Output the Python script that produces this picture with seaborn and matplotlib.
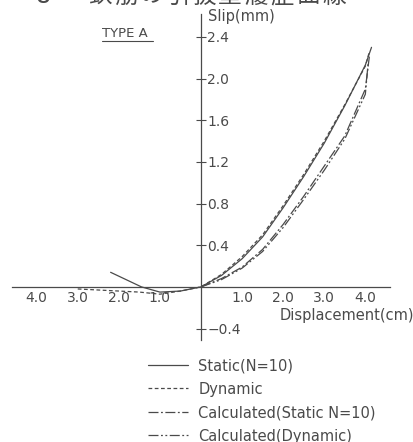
import matplotlib
matplotlib.use("Agg")
import matplotlib.pyplot as plt
import seaborn as sns
import pandas as pd

sns.set_style("white")
plt.rcParams["font.family"] = ["DejaVu Sans", "Noto Sans CJK JP"]

# ---- data ----
static_x = [-2.2, -1.45, -1.0, -0.5, 0.0, 0.5, 1.0, 1.5, 2.0, 2.5, 3.0, 3.5, 4.0, 4.15]
static_y = [0.14, 0.0, -0.05, -0.04, 0.0, 0.11, 0.27, 0.48, 0.76, 1.06, 1.38, 1.74, 2.13, 2.30]

dynamic_x = [-3.0, -2.5, -2.0, -1.5, -1.0, -0.5, 0.0, 0.5, 1.0, 1.5, 2.0, 2.5, 3.0, 3.5, 4.0, 4.1]
dynamic_y = [-0.02, -0.03, -0.04, -0.05, -0.07, -0.04, 0.0, 0.12, 0.29, 0.50, 0.78, 1.08, 1.40, 1.75, 2.12, 2.26]

calc_static_x = [0.0, 0.5, 1.0, 1.5, 2.0, 2.5, 3.0, 3.5, 4.0, 4.1]
calc_static_y = [0.0, 0.08, 0.19, 0.36, 0.60, 0.87, 1.16, 1.45, 1.90, 2.22]

calc_dynamic_x = [0.0, 0.5, 1.0, 1.5, 2.0, 2.5, 3.0, 3.5, 4.0, 4.07]
calc_dynamic_y = [0.0, 0.07, 0.18, 0.34, 0.57, 0.84, 1.12, 1.42, 1.85, 2.16]

labels = ["Static(N=10)", "Dynamic", "Calculated(Static N=10)", "Calculated(Dynamic)"]
x_ticks = [-4.0, -3.0, -2.0, -1.0, 1.0, 2.0, 3.0, 4.0]
x_ticklabels = ["4.0", "3.0", "2.0", "1.0", "1.0", "2.0", "3.0", "4.0"]
y_ticks = [-0.4, 0.4, 0.8, 1.2, 1.6, 2.0, 2.4]
y_ticklabels = ["\u22120.4", "0.4", "0.8", "1.2", "1.6", "2.0", "2.4"]
title_chars = list("鉄筋の引抜量履歴曲線")

INK = "#4a4a4a"
styles = ["-", (0, (3, 2)), (0, (8, 2, 1.5, 2)), (0, (8, 2, 1.5, 2, 1.5, 2))]

fig = plt.figure(figsize=(4.13, 4.42), dpi=100)
ax = fig.add_axes([12 / 413, 102 / 442, 378 / 413, 326 / 442])

series = [
    (static_x, static_y),
    (dynamic_x, dynamic_y),
    (calc_static_x, calc_static_y),
    (calc_dynamic_x, calc_dynamic_y),
]
handles = []
for (xs, ys), lab, ls in zip(series, labels, styles):
    df = pd.DataFrame({"x": xs, "y": ys})
    sns.lineplot(data=df, x="x", y="y", sort=False, estimator=None, ax=ax,
                 color=INK, linewidth=0.9, linestyle=ls, label=lab)
    handles.append(ax.lines[-1])

ax.set_xlim(-4.6, 4.6)
ax.set_ylim(-0.51, 2.62)

# axes through the origin
for side in ["top", "right"]:
    ax.spines[side].set_visible(False)
for side in ["left", "bottom"]:
    ax.spines[side].set_position(("data", 0))
    ax.spines[side].set_color(INK)
    ax.spines[side].set_linewidth(0.9)

ax.set_xticks(x_ticks)
ax.set_xticklabels(x_ticklabels)
ax.set_yticks(y_ticks)
ax.set_yticklabels(y_ticklabels)
ax.tick_params(axis="x", direction="in", length=4, width=0.8, colors=INK,
               labelsize=10, pad=3)
ax.tick_params(axis="y", direction="inout", length=7, width=0.8, colors=INK,
               labelsize=10, pad=-8, left=True, labelleft=True)
for t in ax.get_yticklabels():
    t.set_horizontalalignment("left")
ax.set_xlabel("")
ax.set_ylabel("")

ax.text(0.17, 2.60, "Slip(mm)", fontsize=10.5, color=INK, va="center", ha="left")
ax.text(1.92, -0.27, "Displacement(cm)", fontsize=10.5, color=INK, va="center", ha="left")
ax.text(-2.4, 2.43, "TYPE A", fontsize=9.5, color=INK, va="center", ha="left")
ax.plot([-2.4, -1.18], [2.36, 2.36], color=INK, linewidth=0.8)

# partly cut title at the top edge (as in the scanned source)
fig.text(35 / 413, 1.0 + 4 / 442, "8", fontsize=17, color=INK, va="center", ha="left")
for i, ch in enumerate(title_chars):
    fig.text((100 + i * 26) / 413, 1.0 + 4 / 442, ch, fontsize=17, color=INK,
             va="center", ha="center", family=["Noto Sans CJK JP", "DejaVu Sans"])

ax.legend(handles=handles, labels=labels, loc="upper left",
          bbox_to_anchor=(135 / 413, 97 / 442), bbox_transform=fig.transFigure,
          frameon=False, fontsize=10.5, handlelength=2.75, handletextpad=0.7,
          labelspacing=0.58, labelcolor=INK)

fig.savefig("out.png", dpi=100)
